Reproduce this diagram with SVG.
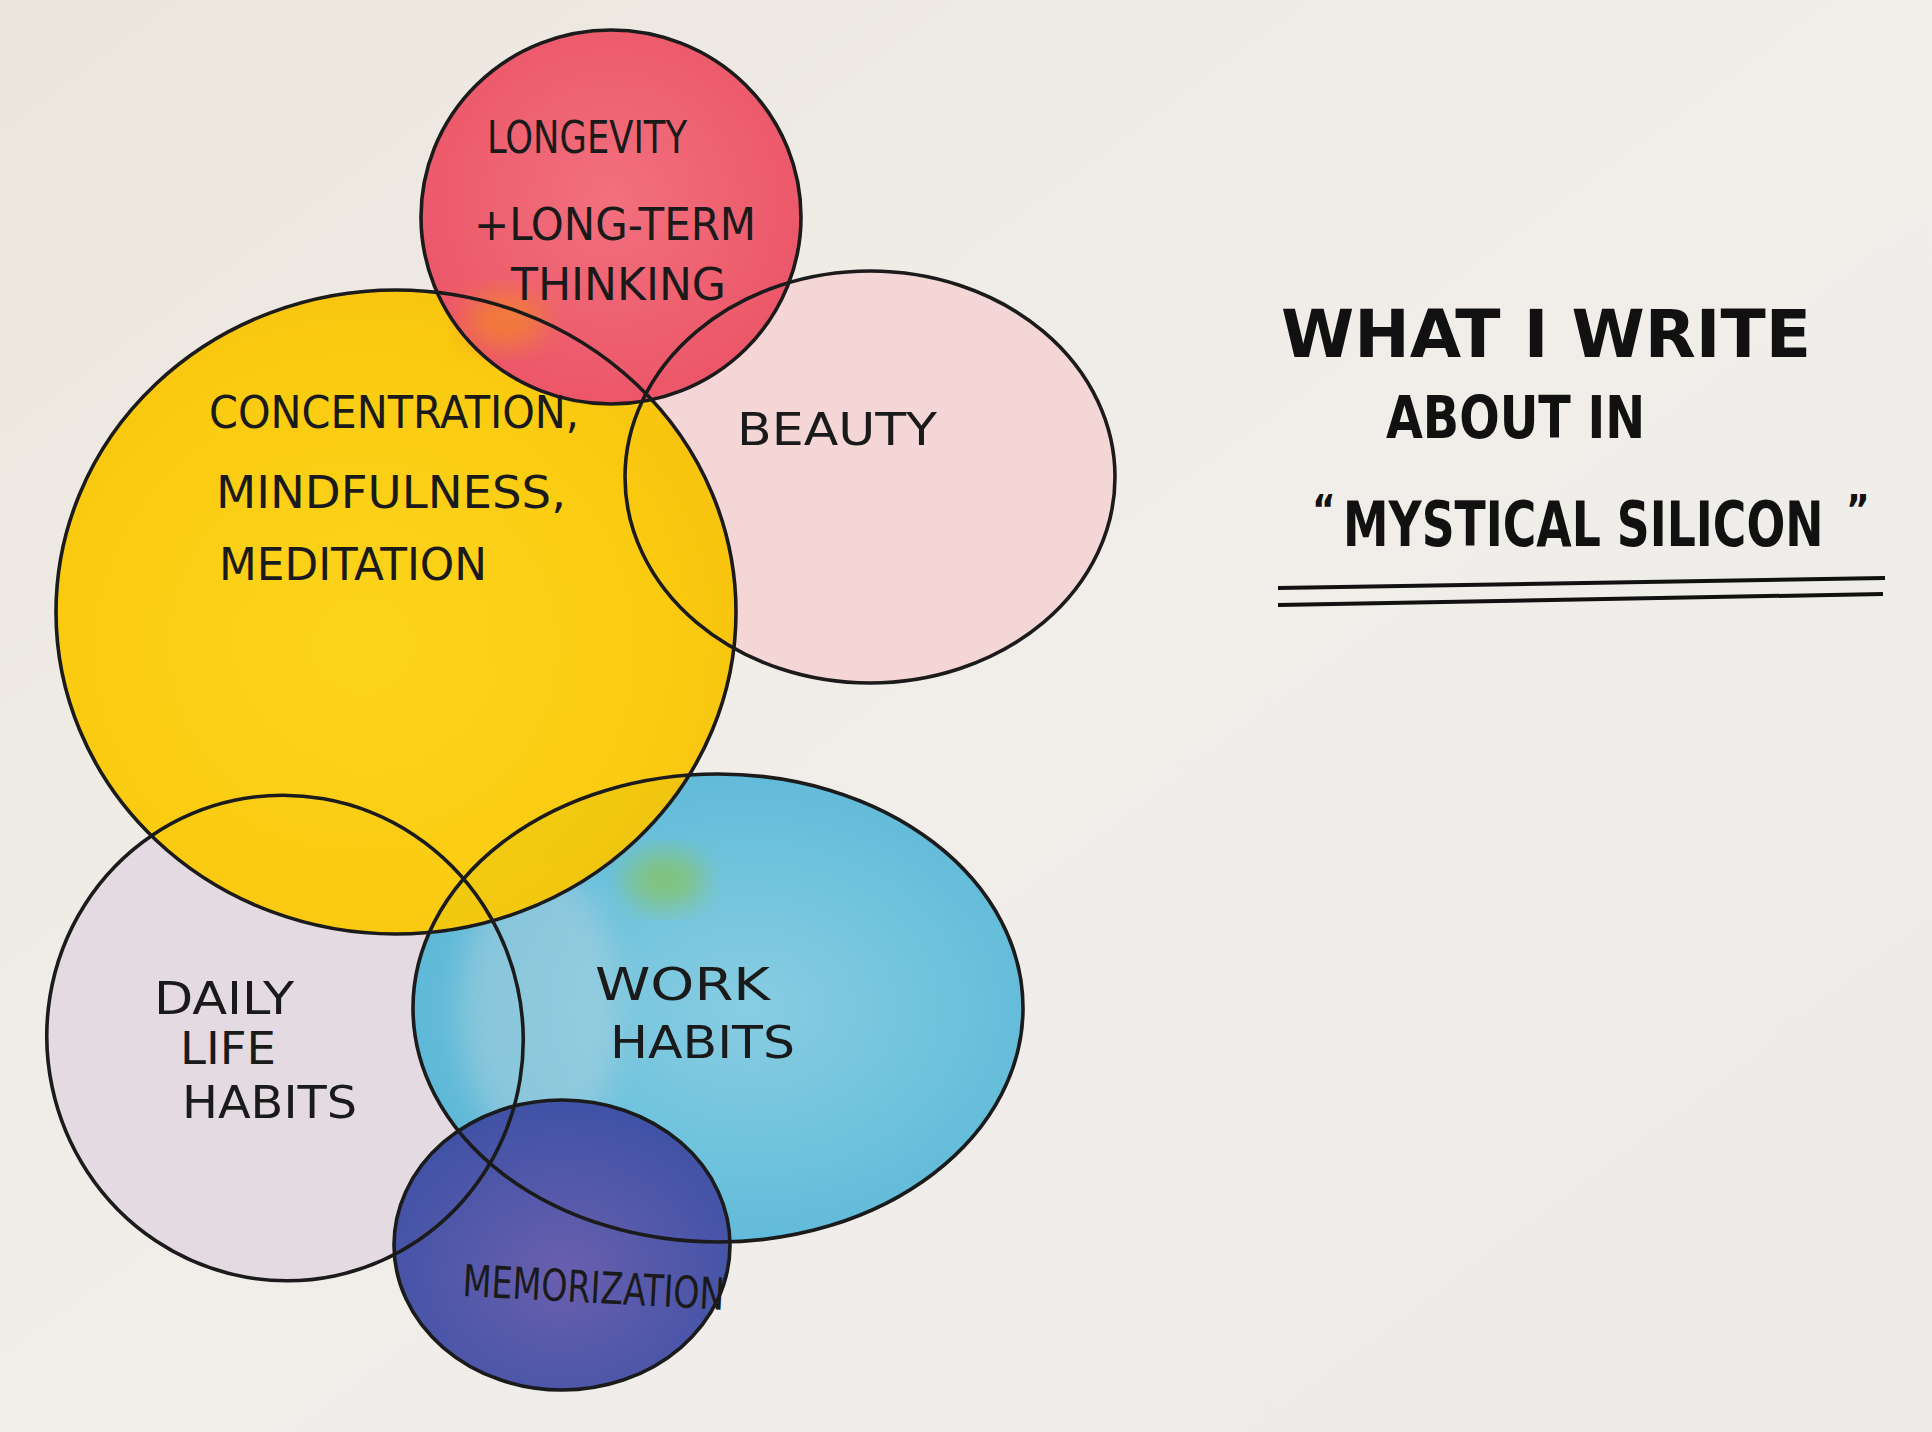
<svg xmlns="http://www.w3.org/2000/svg" width="1932" height="1432" viewBox="0 0 1932 1432">
<style>
.ol{fill:none;stroke:#1b1b1b;stroke-width:3.6;stroke-linecap:round}
.lb{font-family:"DejaVu Sans Condensed","Liberation Sans Narrow","Liberation Sans",sans-serif;font-size:44px;fill:#1a1a1a}
.tt{font-family:"DejaVu Sans Condensed","Liberation Sans",sans-serif;font-weight:bold;fill:#111}
</style>
<defs>
<linearGradient id="bg" x1="0" y1="0" x2="1" y2="1">
<stop offset="0" stop-color="#ebe6dd"/>
<stop offset="0.5" stop-color="#f1eeea"/>
<stop offset="1" stop-color="#ecebe8"/>
</linearGradient>
<radialGradient id="gy" cx="0.45" cy="0.55" r="0.6">
<stop offset="0" stop-color="#fdd30e"/>
<stop offset="0.7" stop-color="#fbca04"/>
<stop offset="1" stop-color="#f8c100"/>
</radialGradient>
<radialGradient id="gb" cx="0.55" cy="0.5" r="0.6">
<stop offset="0" stop-color="#88cde2"/>
<stop offset="0.6" stop-color="#6cc1dc"/>
<stop offset="1" stop-color="#5ab6d6"/>
</radialGradient>
<radialGradient id="gm" cx="0.5" cy="0.6" r="0.6">
<stop offset="0" stop-color="#6a5fae"/>
<stop offset="1" stop-color="#3f52a6"/>
</radialGradient>
<radialGradient id="gr" cx="0.5" cy="0.45" r="0.6">
<stop offset="0" stop-color="#f2707e"/>
<stop offset="1" stop-color="#eb5466"/>
</radialGradient>
<filter id="soft" x="-20%" y="-20%" width="140%" height="140%"><feGaussianBlur stdDeviation="14"/></filter>
</defs>
<rect width="1932" height="1432" fill="url(#bg)"/>

<g id="beauty">
<ellipse cx="870" cy="477" rx="245" ry="206" fill="#f3d6d5"/>
</g>
<g id="daily-life-habits">
<ellipse cx="285" cy="1038" rx="238" ry="243" transform="rotate(-12 285 1038)" fill="#e4dae1"/>
</g>
<g id="work-habits">
<ellipse cx="718" cy="1008" rx="305" ry="234" fill="url(#gb)"/>
<ellipse cx="540" cy="1010" rx="80" ry="140" fill="#c9d8e0" opacity="0.35" filter="url(#soft)"/>
</g>
<g id="memorization">
<ellipse cx="562" cy="1245" rx="168" ry="145" fill="url(#gm)"/>
</g>
<g id="concentration">
<ellipse cx="396" cy="612" rx="340" ry="322" fill="url(#gy)" opacity="0.94"/>
<ellipse cx="665" cy="880" rx="40" ry="28" fill="#8cc43a" opacity="0.6" filter="url(#soft)"/>
</g>
<g id="longevity">
<ellipse cx="611" cy="217" rx="190" ry="187" fill="url(#gr)"/>
<ellipse cx="505" cy="320" rx="40" ry="28" fill="#f2832e" opacity="0.8" filter="url(#soft)"/>
</g>

<g id="outlines">
<ellipse class="ol" cx="870" cy="477" rx="245" ry="206"/>
<ellipse class="ol" cx="285" cy="1038" rx="238" ry="243" transform="rotate(-12 285 1038)"/>
<ellipse class="ol" cx="718" cy="1008" rx="305" ry="234"/>
<ellipse class="ol" cx="562" cy="1245" rx="168" ry="145"/>
<ellipse class="ol" cx="396" cy="612" rx="340" ry="322"/>
<ellipse class="ol" cx="611" cy="217" rx="190" ry="187"/>
</g>

<g id="labels">
<text class="lb" x="487" y="153" textLength="200" lengthAdjust="spacingAndGlyphs">LONGEVITY</text>
<text class="lb" x="474" y="240" textLength="282" lengthAdjust="spacingAndGlyphs">+LONG-TERM</text>
<text class="lb" x="511" y="300" textLength="215" lengthAdjust="spacingAndGlyphs">THINKING</text>
<text class="lb" x="209" y="428" textLength="370" lengthAdjust="spacingAndGlyphs">CONCENTRATION,</text>
<text class="lb" x="216" y="508" textLength="350" lengthAdjust="spacingAndGlyphs">MINDFULNESS,</text>
<text class="lb" x="219" y="580" textLength="268" lengthAdjust="spacingAndGlyphs">MEDITATION</text>
<text class="lb" x="737" y="445" textLength="200" lengthAdjust="spacingAndGlyphs">BEAUTY</text>
<text class="lb" x="154" y="1014" font-size="40" textLength="140" lengthAdjust="spacingAndGlyphs">DAILY</text>
<text class="lb" x="180" y="1064" font-size="40" textLength="96" lengthAdjust="spacingAndGlyphs">LIFE</text>
<text class="lb" x="182" y="1118" textLength="175" lengthAdjust="spacingAndGlyphs">HABITS</text>
<text class="lb" x="595" y="1000" textLength="175" lengthAdjust="spacingAndGlyphs">WORK</text>
<text class="lb" x="610" y="1058" textLength="185" lengthAdjust="spacingAndGlyphs">HABITS</text>
<text class="lb" x="462" y="1296" font-size="40" textLength="262" lengthAdjust="spacingAndGlyphs" transform="rotate(3 462 1296)">MEMORIZATION</text>
</g>

<g id="title">
<text class="tt" x="1281" y="357" font-size="66" textLength="530" lengthAdjust="spacingAndGlyphs">WHAT  I  WRITE</text>
<text class="tt" x="1386" y="438" font-size="58" textLength="259" lengthAdjust="spacingAndGlyphs">ABOUT IN</text>
<text class="tt" x="1312" y="524" font-size="40">“</text>
<text class="tt" font-size="62" transform="translate(1343 546) scale(0.82 1)">MYSTICAL SILICON</text>
<text class="tt" x="1846" y="524" font-size="40">”</text>
<path d="M1278 588 L1885 578" stroke="#111" stroke-width="4" fill="none"/>
<path d="M1278 605 L1883 594" stroke="#111" stroke-width="4" fill="none"/>
</g>
</svg>
